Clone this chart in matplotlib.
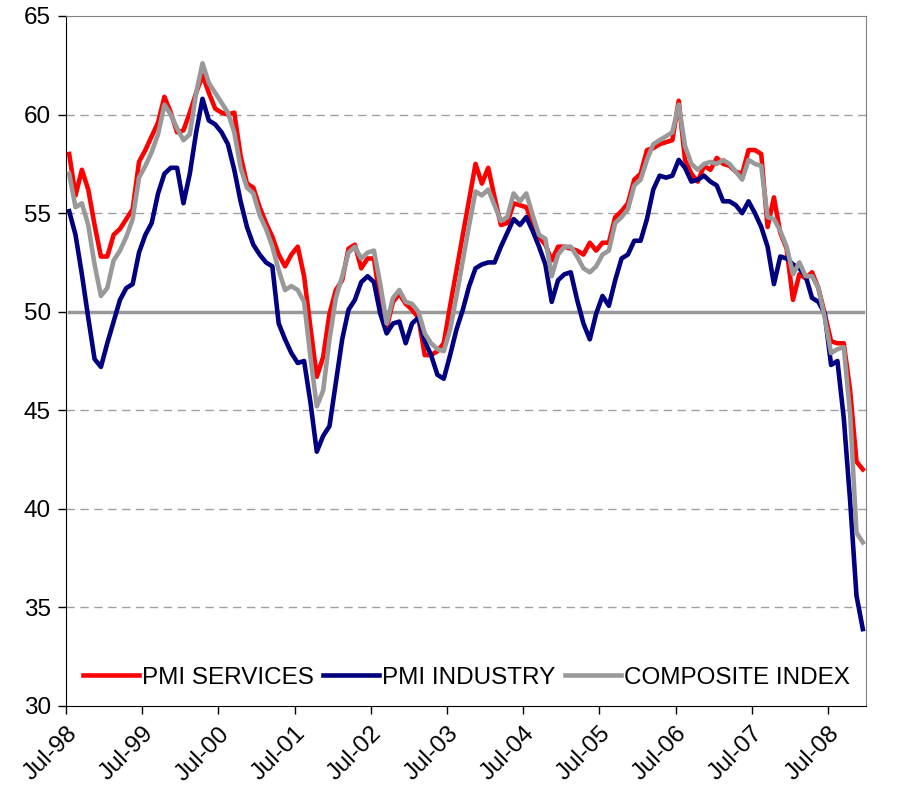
import numpy as np
import matplotlib
matplotlib.use('Agg')
import matplotlib.pyplot as plt
from matplotlib import font_manager as fm

# monthly readings, Jul-98 .. Dec-08
pmi_services = [58.0, 55.9, 57.2, 56.2, 54.4, 52.8, 52.8, 53.9, 54.2, 54.7, 55.2, 57.6,
                58.2, 58.9, 59.6, 60.9, 60.1, 59.1, 59.2, 60.1, 61.1, 62.0, 61.1, 60.3,
                60.1, 60.0, 60.1, 57.9, 56.5, 56.3, 55.3, 54.5, 53.8, 52.9, 52.3, 52.9,
                53.3, 51.8, 49.2, 46.7, 47.7, 49.9, 51.1, 51.6, 53.2, 53.4, 52.2, 52.7,
                52.7, 50.5, 49.2, 50.5, 50.9, 50.4, 50.1, 49.7, 47.8, 47.8, 48.0, 48.4,
                50.3, 52.1, 53.9, 55.7, 57.5, 56.5, 57.3, 55.8, 54.4, 54.5, 55.5, 55.4,
                55.3, 54.5, 53.8, 53.4, 52.6, 53.3, 53.3, 53.2, 53.1, 52.9, 53.5, 53.1,
                53.5, 53.5, 54.8, 55.1, 55.5, 56.7, 57.0, 58.2, 58.3, 58.5, 58.6, 58.7,
                60.7, 57.7, 57.0, 56.6, 57.4, 57.2, 57.8, 57.5, 57.4, 57.1, 57.0, 58.2,
                58.2, 58.0, 54.3, 55.8, 54.0, 53.2, 50.6, 51.9, 51.7, 52.0, 51.2, 49.9,
                48.5, 48.4, 48.4, 46.0, 42.4, 42.0]

pmi_industry = [55.1, 53.9, 51.9, 49.7, 47.6, 47.2, 48.4, 49.5, 50.6, 51.2, 51.4, 53.0,
                53.9, 54.5, 56.0, 57.0, 57.3, 57.3, 55.5, 57.0, 59.1, 60.8, 59.7, 59.5,
                59.1, 58.5, 57.2, 55.6, 54.3, 53.4, 52.9, 52.5, 52.3, 49.4, 48.6, 47.9,
                47.4, 47.5, 45.4, 42.9, 43.7, 44.2, 46.4, 48.6, 50.1, 50.6, 51.5, 51.8,
                51.5, 49.9, 48.9, 49.4, 49.5, 48.4, 49.4, 49.7, 48.5, 47.8, 46.8, 46.6,
                47.8, 49.1, 50.1, 51.3, 52.2, 52.4, 52.5, 52.5, 53.3, 54.0, 54.7, 54.4,
                54.8, 54.1, 53.3, 52.4, 50.5, 51.6, 51.9, 52.0, 50.6, 49.4, 48.6, 49.9,
                50.8, 50.3, 51.6, 52.7, 52.9, 53.6, 53.6, 54.7, 56.2, 56.9, 56.8, 56.9,
                57.7, 57.3, 56.6, 56.7, 56.9, 56.6, 56.4, 55.6, 55.6, 55.4, 55.0, 55.6,
                55.0, 54.3, 53.3, 51.4, 52.8, 52.7, 52.4, 52.2, 51.8, 50.7, 50.5, 49.9,
                47.3, 47.5, 44.6, 40.4, 35.6, 33.9]

composite = [57.0, 55.3, 55.5, 54.4, 52.4, 50.8, 51.2, 52.6, 53.1, 53.8, 54.7, 56.8,
             57.4, 58.1, 59.0, 60.5, 60.0, 59.3, 58.7, 59.0, 61.1, 62.6, 61.6, 61.1,
             60.6, 60.1, 59.1, 57.3, 56.3, 56.0, 54.9, 54.2, 53.3, 52.1, 51.1, 51.3,
             51.1, 50.5, 47.7, 45.2, 46.0, 48.6, 50.7, 51.8, 53.0, 53.3, 52.7, 53.0,
             53.1, 51.4, 49.4, 50.7, 51.1, 50.5, 50.4, 50.0, 48.9, 48.4, 48.1, 48.0,
             49.1, 50.8, 52.6, 54.4, 56.1, 55.9, 56.2, 55.4, 54.6, 54.8, 56.0, 55.6,
             56.0, 54.9, 53.9, 53.7, 51.8, 52.9, 53.3, 53.3, 52.8, 52.2, 52.0, 52.3,
             52.9, 53.1, 54.5, 54.8, 55.2, 56.4, 56.7, 57.7, 58.5, 58.7, 58.9, 59.1,
             60.5, 58.4, 57.5, 57.2, 57.5, 57.6, 57.5, 57.7, 57.5, 57.1, 56.7, 57.7,
             57.5, 57.4, 54.8, 54.7, 54.1, 53.3, 51.9, 52.5, 51.8, 51.8, 51.2, 49.7,
             47.9, 48.1, 48.2, 44.8, 38.8, 38.3]

tick_labels = ['Jul-98', 'Jul-99', 'Jul-00', 'Jul-01', 'Jul-02', 'Jul-03',
               'Jul-04', 'Jul-05', 'Jul-06', 'Jul-07', 'Jul-08']
threshold = 50

# narrow font if we have it, the original text is condensed
names = {f.name for f in fm.fontManager.ttflist}
if 'Liberation Sans Narrow' in names:
    fam, fs = 'Liberation Sans Narrow', 20
else:
    fam, fs = 'Liberation Sans', 17.5
plt.rcParams['font.family'] = [fam, 'DejaVu Sans']

fig = plt.figure(figsize=(9.07, 7.96), dpi=100)
ax = fig.add_axes([66 / 907, 90 / 796, 800 / 907, 690 / 796])

x = np.arange(len(pmi_services)) + 0.5

ax.plot([x[0], x[-1]], [threshold, threshold], color='#999999', linewidth=2.5, zorder=2)
ax.plot(x, pmi_services, color='#ff0000', linewidth=3.3, label='PMI SERVICES', zorder=3)
ax.plot(x, pmi_industry, color='#000080', linewidth=3.3, label='PMI INDUSTRY', zorder=4)
ax.plot(x, composite, color='#999999', linewidth=3.3, label='COMPOSITE INDEX', zorder=5)

ax.set_xlim(0, len(pmi_services))
ax.set_ylim(30, 65)
ax.set_yticks(np.arange(30, 66, 5))
ax.set_xticks(np.arange(0, 121, 12))
ax.set_xticklabels(tick_labels, rotation=45, ha='right', va='top', rotation_mode='anchor')
ax.tick_params(axis='both', labelsize=fs, direction='out', length=6, width=1, color='black')
ax.tick_params(axis='x', pad=6)
ax.tick_params(axis='y', pad=5)

for v in [35, 40, 45, 55, 60]:
    ax.axhline(v, color='#a0a0a0', linewidth=1, linestyle=(0, (6, 4)), zorder=1)

ax.spines['left'].set_color('black')
ax.spines['bottom'].set_color('black')
ax.spines['top'].set_color('#808080')
ax.spines['right'].set_color('#808080')

ax.legend(loc='lower left', bbox_to_anchor=(0.0, 0.0), ncol=3, frameon=False,
          fontsize=fs, handlelength=2.3, handletextpad=0.12, columnspacing=0.4,
          borderaxespad=0.3)

fig.savefig('out.png', dpi=100)
